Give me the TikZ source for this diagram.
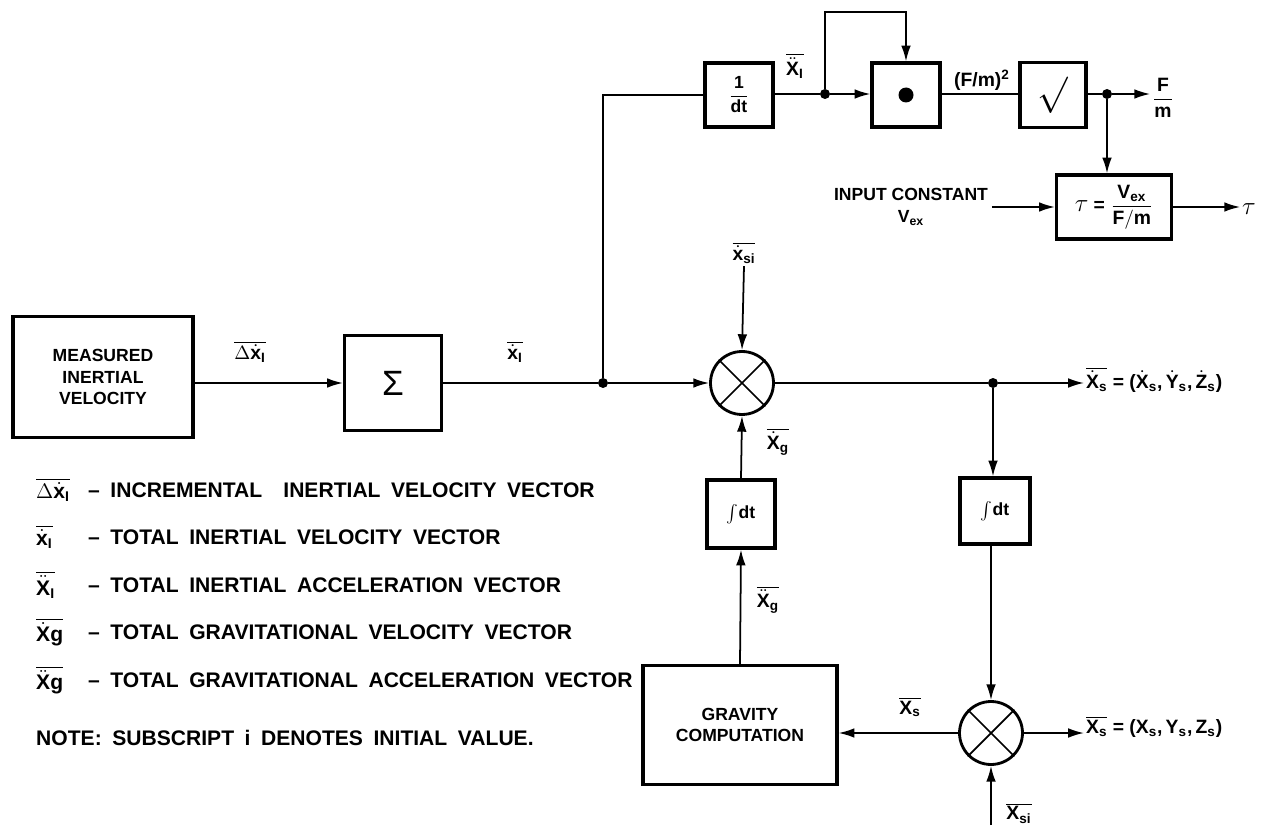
\documentclass[tikz,border=0pt]{standalone}
\usepackage{amsmath}
\usepackage{fontspec}
\setmainfont{Liberation Sans}
\usepackage{tikz}
\usetikzlibrary{arrows.meta,positioning,calc}
\newcommand{\vsym}[3]{\overline{#1{\mathbf{#2}}_{\mathbf{#3}}}}
\newcommand{\widesp}{\spaceskip 0.5em\relax}

\begin{document}
\begin{tikzpicture}[x=0.02cm,y=-0.02cm,
  font=\bfseries\fontsize{10}{12.3}\selectfont,
  every node/.style={align=center},
  blk/.style={draw,line width=1.8pt,inner sep=0pt},
  mul/.style={draw,circle,line width=1.6pt,minimum size=1.26cm,inner sep=0pt},
  junc/.style={circle,fill,inner sep=0pt,minimum size=0.2cm},
  wire/.style={line width=1pt},
  arr/.style={wire,-{Latex[length=9pt,width=5.5pt]}},
  lbl/.style={font=\bfseries\fontsize{11}{13}\selectfont,inner sep=1pt},
  legend/.style={anchor=west,font=\bfseries\fontsize{12}{14}\selectfont\widesp}
]
\useasboundingbox (0,0) rectangle (1272,831);

% Main line
\node (meas) at (103,377) [blk,minimum width=3.6cm,minimum height=2.42cm] {MEASURED\\INERTIAL\\VELOCITY};
\node (sum) at (393,383) [blk,minimum width=1.94cm,minimum height=1.9cm] {\mdseries\fontsize{20}{20}\selectfont Σ};
\node (j1) at (603,383) [junc] {};
\node (mulA) at (742,383) [mul] {};
\node (j4) at (993,383) [junc] {};
\node (xdout) at (1084,380) [lbl,anchor=west] {$\vsym{\dot}{X}{s}$ = ($\dot{\mathbf{X}}_{\mathbf{s}}$,\,$\dot{\mathbf{Y}}_{\mathbf{s}}$,\,$\dot{\mathbf{Z}}_{\mathbf{s}}$)};
\draw[arr] (meas.east |- sum) -- (sum.west);
\node at (250,352) [lbl] {$\vsym{\Delta\dot}{x}{I}$};
\draw[wire] (sum.east) -- (j1);
\node at (515,352) [lbl] {$\vsym{\dot}{x}{I}$};
\draw[arr] (j1) -- (mulA.west);
\draw[wire] (mulA.east) -- (j4);
\draw[arr] (j4) -- (j4 -| xdout.west);
\node (xsitop) at (744,253) [lbl] {$\vsym{\dot}{x}{si}$};
\draw[arr] (xsitop.south) -- (mulA.north);

% Top chain
\node (inv) at (739,95) [blk,minimum width=1.36cm,minimum height=1.28cm] {$\dfrac{\mathbf{1}}{\mathbf{dt}}$};
\node (j2) at (825,94) [junc] {};
\node (dotp) at (906,95) [blk,minimum width=1.36cm,minimum height=1.28cm] {};
\fill (dotp) circle (0.15cm);
\node (sqrt) at (1053,95) [blk,minimum width=1.32cm,minimum height=1.3cm] {\fontsize{22}{22}\selectfont$\surd$};
\node (j3) at (1107,94) [junc] {};
\node (fm) at (1163,98) [lbl] {$\dfrac{\mathbf{F}}{\mathbf{m}}$};
\coordinate (looptop) at (825,12);
\draw[wire] (j1) |- (inv.west);
\draw[wire] (inv.east |- j2) -- (j2);
\node at (795,66) [lbl] {$\vsym{\ddot}{X}{I}$};
\draw[arr] (j2) -- (j2 -| dotp.west);
\draw[arr] (j2) -- (looptop) -| (dotp.north);
\draw[wire] (dotp.east |- j2) -- (sqrt.west |- j2);
\node at (982,80) [lbl] {(F/m)$^{\mathbf{2}}$};
\draw[wire] (sqrt.east |- j3) -- (j3);
\draw[arr] (j3) -- (j3 -| fm.west);

% Thrust-to-mass box
\node (tau) at (1114,207) [blk,minimum width=2.3cm,minimum height=1.28cm] {\fontsize{11}{13}\selectfont{\fontsize{14}{14}\selectfont$\tau$}\ =\ $\dfrac{\mathbf{V}_{\mathbf{ex}}}{\mathbf{F/m}}$};
\node (inp) at (911,207) [inner sep=2pt] {INPUT CONSTANT\\$\mathbf{V}_{\mathbf{ex}}$};
\node (tauout) at (1249,209) [lbl] {\fontsize{14}{14}\selectfont$\tau$};
\draw[arr] (j3) -- (j3 |- tau.north);
\draw[arr] (inp.east) -- (tau.west);
\draw[arr] (tau.east) -- (tauout.west |- tau.east);

% Gravity loop
\node (intA) at (741,514) [blk,minimum width=1.36cm,minimum height=1.36cm] {$\int\!\mathbf{dt}$};
\node (intB) at (995,511) [blk,minimum width=1.4cm,minimum height=1.32cm] {$\int\!\mathbf{dt}$};
\node (grav) at (740,725) [blk,minimum width=3.88cm,minimum height=2.38cm] {GRAVITY\\COMPUTATION};
\node (mulB) at (991,733) [mul] {};
\node (xout) at (1084,727) [lbl,anchor=west] {$\vsym{}{X}{s}$ = ($\mathbf{X}_{\mathbf{s}}$,\,$\mathbf{Y}_{\mathbf{s}}$,\,$\mathbf{Z}_{\mathbf{s}}$)};
\coordinate (xsiin) at (991,825);
\draw[arr] (intA.north) -- (mulA.south);
\node at (778,442) [lbl] {$\vsym{\dot}{X}{g}$};
\draw[arr] (grav.north) -- (intA.south);
\node at (768,600) [lbl] {$\vsym{\ddot}{X}{g}$};
\draw[arr] (j4) -- (j4 |- intB.north);
\draw[arr] (intB.south -| mulB) -- (mulB.north);
\draw[arr] (mulB.west) -- (mulB.west -| grav.east);
\node at (910,707) [lbl] {$\vsym{}{X}{s}$};
\draw[arr] (mulB.east) -- (mulB.east -| xout.west);
\draw[arr] (xsiin) -- (mulB.south);
\node at (1019,813) [lbl] {$\vsym{}{X}{si}$};
\foreach \m in {mulA,mulB}
  \draw[wire] (\m.north west) -- (\m.south east) (\m.north east) -- (\m.south west);

% Legend
\node at (30,490) [legend] {$\vsym{\Delta\dot}{x}{I}$};
\node at (82,490) [legend] {-- INCREMENTAL\ \ INERTIAL VELOCITY VECTOR};
\node at (30,537) [legend] {$\vsym{\dot}{x}{I}$};
\node at (82,537) [legend] {-- TOTAL INERTIAL VELOCITY VECTOR};
\node at (30,585) [legend] {$\vsym{\ddot}{X}{I}$};
\node at (82,585) [legend] {-- TOTAL INERTIAL ACCELERATION VECTOR};
\node at (30,632) [legend] {$\overline{\dot{\mathbf{X}}\mathbf{g}}$};
\node at (82,632) [legend] {-- TOTAL GRAVITATIONAL VELOCITY VECTOR};
\node at (30,680) [legend] {$\overline{\ddot{\mathbf{X}}\mathbf{g}}$};
\node at (82,680) [legend] {-- TOTAL GRAVITATIONAL ACCELERATION VECTOR};
\node at (30,738) [legend] {NOTE: SUBSCRIPT i DENOTES INITIAL VALUE.};
\end{tikzpicture}
\end{document}
